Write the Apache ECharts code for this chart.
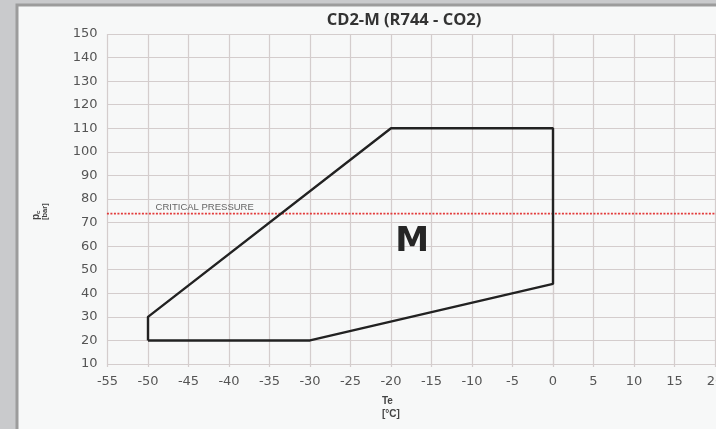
<!DOCTYPE html>
<html>
<head>
<meta charset="utf-8">
<script src="https://cdn.jsdelivr.net/npm/echarts@6/dist/echarts.min.js"></script>
<style>
html,body{margin:0;padding:0;background:#c9cacc;}
#c{width:716px;height:429px;}
</style>
</head>
<body>
<div id="c"></div>
<script>
// Data
const titleText = 'CD2-M (R744 - CO2)';
const envelopeTe = [-50, -50, -20, 0, 0, -30, -50];
const envelopePc = [20, 30, 110, 110, 44, 20, 20];
const criticalPressure = 73.8;
const criticalTe = [-56.8, 21];
const criticalLabel = 'CRITICAL PRESSURE';
const criticalLabelTe = -43;
const regionLabel = 'M';
const regionLabelPos = [-17.4, 61.5];
const xMin = -55, xMax = 20, xStep = 5;
const yMin = 10, yMax = 150, yStep = 10;

const envelope = envelopeTe.map((t, i) => [t, envelopePc[i]]);
const critical = criticalTe.map(t => [t, criticalPressure]);

const chart = echarts.init(document.getElementById('c'), null, {renderer: 'canvas'});
const gridColor = '#d4cdcd';
chart.setOption({
  backgroundColor: 'transparent',
  animation: false,
  graphic: [
    {type: 'rect', z: -10, shape: {x: 17, y: 5, width: 720, height: 440},
     style: {fill: '#f7f8f8', stroke: '#9c9c9c', lineWidth: 3}},
    {type: 'text', left: 382, top: 395, z: 10,
     style: {text: 'Te\n[°C]', font: 'bold 10px "Liberation Sans"', fill: '#444', align: 'center', lineHeight: 13}},
    {type: 'text', x: 31, y: 220, rotation: Math.PI / 2, z: 10,
     style: {text: '{p|p}{s|c}\n{u|[bar]}', fill: '#444',
       rich: {p: {font: 'bold 10px "Liberation Sans"', fill: '#444'},
              s: {font: 'bold 6px "Liberation Sans"', fill: '#444', verticalAlign: 'bottom'},
              u: {font: 'bold 7.5px "Liberation Sans"', fill: '#444'}}}}
  ],
  title: {
    text: titleText, left: 399, top: 7, textAlign: 'center',
    textStyle: {fontFamily: '"Open Sans"', fontWeight: 'bold', fontSize: 16.5, color: '#333'}
  },
  grid: {left: 107.5, top: 34, width: 607.5, height: 330, containLabel: false, outerBoundsMode: 'none'},
  xAxis: {
    type: 'value', min: xMin, max: xMax, interval: xStep,
    axisLine: {show: true, onZero: false, lineStyle: {color: gridColor, width: 1.2}},
    axisTick: {show: true, length: 3, lineStyle: {color: gridColor, width: 1.2}},
    axisLabel: {color: '#555', fontSize: 13, fontFamily: '"DejaVu Sans"', margin: 11, showMaxLabel: true},
    splitLine: {show: true, lineStyle: {color: gridColor, width: 1.2}}
  },
  yAxis: {
    type: 'value', min: yMin, max: yMax, interval: yStep,
    axisLine: {show: true, lineStyle: {color: gridColor, width: 1.2}},
    axisTick: {show: true, length: 3, lineStyle: {color: gridColor, width: 1.2}},
    axisLabel: {color: '#555', fontSize: 13, fontFamily: '"DejaVu Sans"', margin: 10},
    splitLine: {show: true, lineStyle: {color: gridColor, width: 1.2}}
  },
  series: [
    {type: 'line', data: critical, symbol: 'none', clip: false, z: 3,
     lineStyle: {color: '#e23a3a', width: 1.6, type: [2, 1.5]}},
    {type: 'line', data: envelope, symbol: 'none', z: 4,
     lineStyle: {color: '#222', width: 2.4}},
    {type: 'scatter', data: [[criticalLabelTe, criticalPressure]], symbolSize: 0, z: 5,
     itemStyle: {opacity: 1},
     label: {show: true, position: 'top', distance: 1, formatter: criticalLabel,
       color: '#666', fontSize: 9.5, fontFamily: '"Liberation Sans"'}},
    {type: 'scatter', data: [regionLabelPos], symbolSize: 0, z: 5,
     itemStyle: {opacity: 1},
     label: {show: true, position: 'inside', formatter: regionLabel,
       color: '#262626', fontSize: 34, fontWeight: 'bold', fontFamily: '"DejaVu Sans"'}}
  ]
});
</script>
</body>
</html>
